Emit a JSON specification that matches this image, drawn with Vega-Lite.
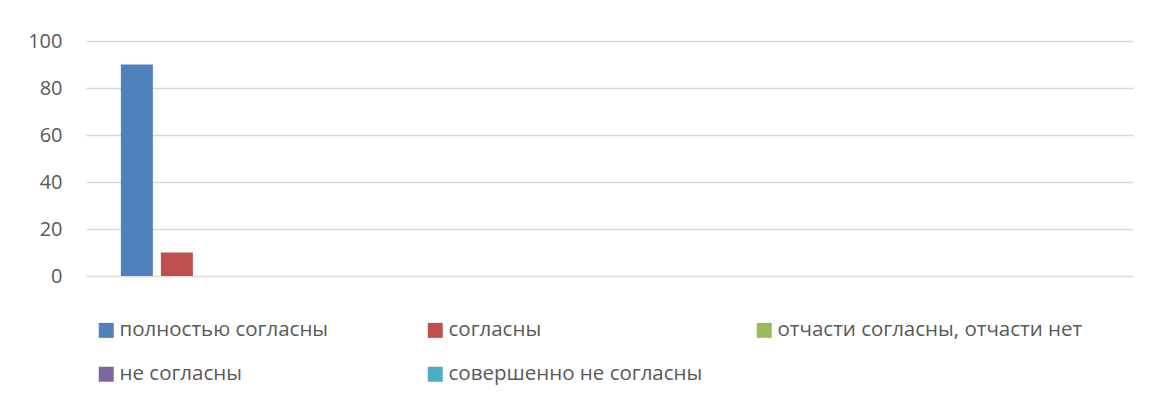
{
  "$schema": "https://vega.github.io/schema/vega-lite/v6.json",
  "width": 1047,
  "height": 235,
  "autosize": {"type": "none"},
  "padding": {"left": 86, "top": 41, "right": 17, "bottom": 125},
  "background": "white",
  "config": {
    "view": {"stroke": null},
    "font": "Open Sans"
  },
  "data": {
    "values": [
      {"group": "1", "series": "полностью согласны", "value": 90},
      {"group": "1", "series": "согласны", "value": 10},
      {"group": "1", "series": "отчасти согласны, отчасти нет", "value": 0},
      {"group": "1", "series": "не согласны", "value": 0},
      {"group": "1", "series": "совершенно не согласны", "value": 0}
    ]
  },
  "mark": {"type": "bar"},
  "encoding": {
    "x": {
      "field": "group",
      "type": "nominal",
      "axis": null,
      "scale": {"paddingInner": 0.3333, "paddingOuter": 1, "align": 0}
    },
    "xOffset": {
      "field": "series",
      "type": "nominal",
      "sort": ["полностью согласны", "согласны", "отчасти согласны, отчасти нет", "не согласны", "совершенно не согласны"],
      "scale": {"paddingInner": 0.2, "paddingOuter": 0.872}
    },
    "y": {
      "field": "value",
      "type": "quantitative",
      "scale": {"domain": [0, 100]},
      "axis": {
        "title": null,
        "values": [0, 20, 40, 60, 80, 100],
        "domain": false,
        "ticks": false,
        "labelPadding": 24,
        "labelFontSize": 20,
        "labelColor": "#595959",
        "labelFont": "Open Sans",
        "gridColor": "#d9d9d9",
        "gridWidth": 1.3
      }
    },
    "color": {
      "field": "series",
      "type": "nominal",
      "scale": {
        "domain": ["полностью согласны", "согласны", "отчасти согласны, отчасти нет", "не согласны", "совершенно не согласны"],
        "range": ["#4F81BD", "#C0504D", "#9BBB59", "#8064A2", "#4BACC6"]
      },
      "legend": {
        "title": null,
        "orient": "none",
        "legendX": 10,
        "legendY": 279,
        "direction": "horizontal",
        "columns": 3,
        "gridAlign": "all",
        "columnPadding": -2,
        "rowPadding": 23,
        "symbolType": "square",
        "symbolSize": 225,
        "symbolStrokeWidth": 0,
        "symbolOpacity": 1,
        "labelFontSize": 20.5,
        "labelColor": "#595959",
        "labelFont": "Open Sans",
        "labelOffset": 3,
        "labelLimit": 500
      }
    }
  }
}
